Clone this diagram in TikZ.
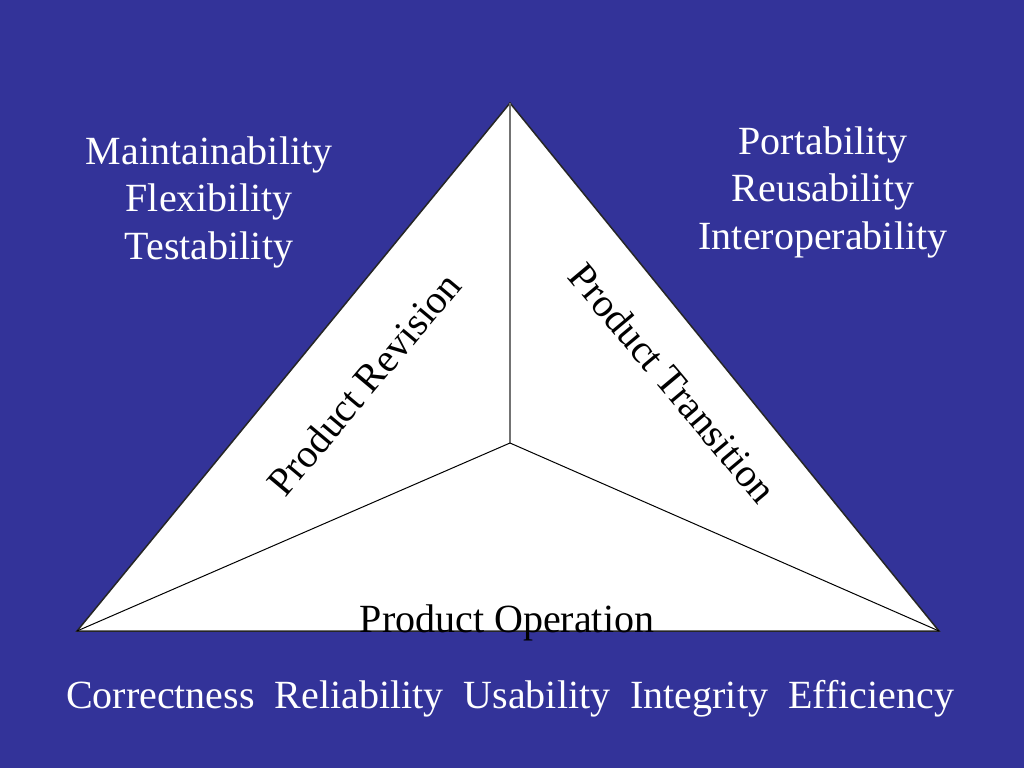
\documentclass[tikz,border=0pt]{standalone}
\usepackage{fontspec}
\setmainfont{Liberation Serif}
\definecolor{slideblue}{RGB}{51,51,153}
\begin{document}
\begin{tikzpicture}[x=1pt,y=-1pt,
  lbl/.style={text=white,font=\fontsize{40}{47.5}\selectfont,align=center,inner sep=0pt},
  face/.style={text=black,font=\fontsize{40}{47.5}\selectfont,inner sep=0pt},
  edge/.style={draw=black,line width=1pt}]
\fill[slideblue] (0,0) rectangle (1024,768);
\useasboundingbox (0,0) rectangle (1024,768);
\coordinate (T) at (510,103);
\coordinate (L) at (77,631);
\coordinate (R) at (939,631);
\coordinate (C) at (510,443);
\filldraw[fill=white,draw=black!85,line width=1.5pt,line join=miter] (T) -- (L) -- (R) -- cycle;
\draw[draw=black!55,line width=1.2pt] (C) -- (T);
\draw[edge] (C) -- (L);
\draw[edge] (C) -- (R);
\node[lbl,anchor=center] (tl) at (209,202) {Maintainability\\Flexibility\\Testability};
\node[lbl,anchor=center] (tr) at (823,192) {Portability\\Reusability\\Interoperability};
\node[face,rotate=50] (rev) at (364,384) {Product Revision};
\node[face,rotate=-50] (tra) at (673,383) {Product Transition};
\node[face] (op) at (507,623) {Product Operation};
\node[lbl] (bot) at (510,699) {Correctness\ \ Reliability\ \ Usability\ \ Integrity\ \ Efficiency};
\end{tikzpicture}
\end{document}
